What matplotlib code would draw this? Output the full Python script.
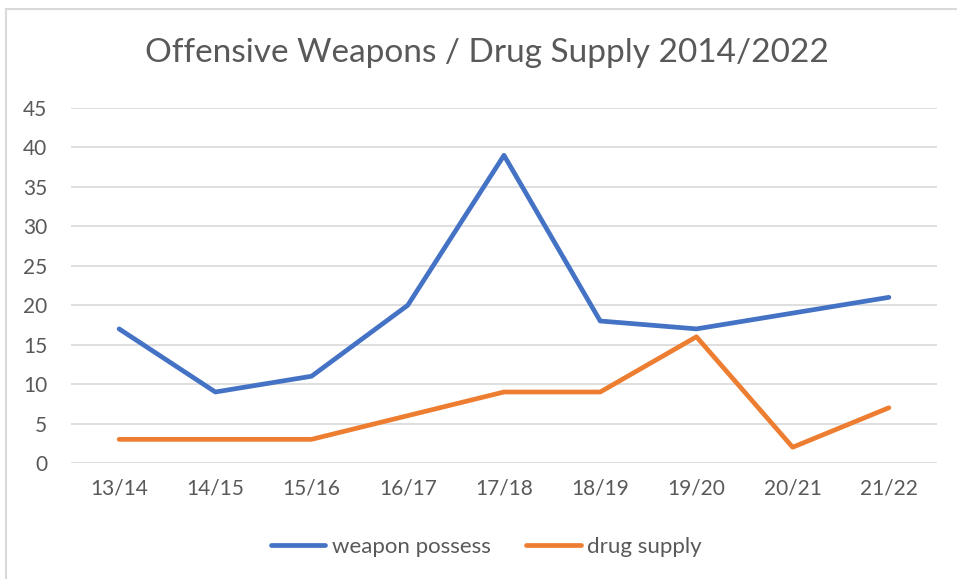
import matplotlib.pyplot as plt
from matplotlib.patches import Rectangle

years = ['13/14', '14/15', '15/16', '16/17', '17/18', '18/19', '19/20', '20/21', '21/22']
weapon_possess = [17, 9, 11, 20, 39, 18, 17, 19, 21]
drug_supply = [3, 3, 3, 6, 9, 9, 16, 2, 7]

plt.rcParams['font.family'] = ['Lato', 'DejaVu Sans']
txt = '#595959'

fig = plt.figure(figsize=(9.57, 5.79), dpi=100)
# chart border, runs off right and bottom edges
fig.patches.append(Rectangle((6 / 957, -0.05), 1.0, 1 - 9 / 579 + 0.05, transform=fig.transFigure,
                             fill=False, edgecolor='#D9D9D9', linewidth=1.5))

ax = fig.add_axes([71 / 957, 1 - 463 / 579, (937 - 71) / 957, (463 - 108) / 579])
x = list(range(len(years)))
ax.plot(x, weapon_possess, color='#4472C4', linewidth=3.4, solid_capstyle='round',
        solid_joinstyle='round', label='weapon possess')
ax.plot(x, drug_supply, color='#ED7D31', linewidth=3.4, solid_capstyle='round',
        solid_joinstyle='round', label='drug supply')

ax.set_xlim(-0.5, len(years) - 0.5)
ax.set_ylim(0, 45)
ax.set_yticks(range(0, 46, 5))
ax.set_xticks(x)
ax.set_xticklabels(years)
ax.grid(axis='y', color='#D9D9D9', linewidth=1.2)
ax.set_axisbelow(True)
for s in ax.spines.values():
    s.set_visible(False)
ax.tick_params(length=0, labelsize=15, labelcolor=txt)
ax.tick_params(axis='y', pad=17)
ax.tick_params(axis='x', pad=11)

fig.text(0.509, 1 - 53 / 579, 'Offensive Weapons / Drug Supply 2014/2022', ha='center', va='center',
         fontsize=24, color=txt)

fig.legend(loc='center', bbox_to_anchor=(0.508, 1 - 547 / 579), ncol=2, frameon=False,
           fontsize=16, labelcolor=txt, handlelength=2.45, handletextpad=0.3, columnspacing=1.6)

plt.savefig('out.png', dpi=100)
